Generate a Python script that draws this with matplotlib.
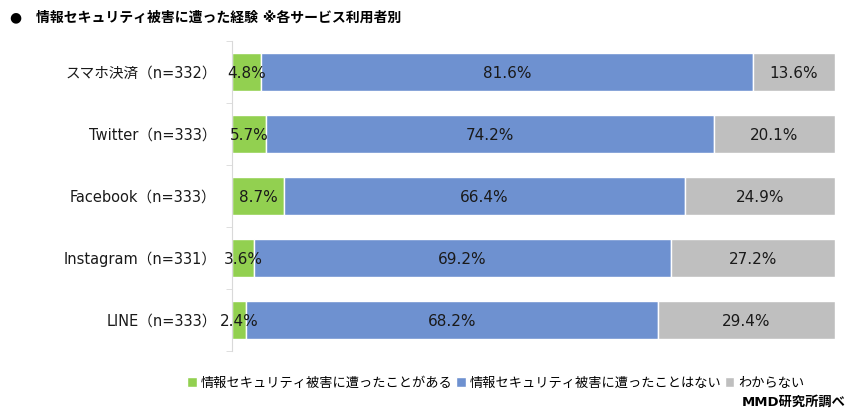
import matplotlib.pyplot as plt
import numpy as np

plt.rcParams['font.family'] = ['DejaVu Sans', 'Noto Sans CJK JP']

# data
cats = ["スマホ決済（n=332）", "Twitter（n=333）", "Facebook（n=333）", "Instagram（n=331）", "LINE（n=333）"]
had = [4.8, 5.7, 8.7, 3.6, 2.4]
never = [81.6, 74.2, 66.4, 69.2, 68.2]
unknown = [13.6, 20.1, 24.9, 27.2, 29.4]
names = ["情報セキュリティ被害に遭ったことがある", "情報セキュリティ被害に遭ったことはない", "わからない"]
colors = ["#92D050", "#6E91D0", "#BFBFBF"]

fig = plt.figure(figsize=(8.56, 4.18), dpi=100)
ax = fig.add_axes([232/856, 1-351/418, (835-232)/856, 310/418])

y = np.arange(len(cats))
left = np.zeros(len(cats))
for vals, col, nm in zip([had, never, unknown], colors, names):
    ax.barh(y, vals, left=left, height=0.61, color=col, edgecolor="white", linewidth=1, label=nm)
    for yi, l, v in zip(y, left, vals):
        ax.text(l + v/2, yi + 0.03, "%.1f%%" % v, ha="center", va="center", fontsize=11, color="#1a1a1a")
    left = left + np.array(vals)

ax.set_xlim(0, 100)
ax.set_ylim(len(cats)-0.5, -0.5)
ax.set_yticks(y)
ax.set_yticklabels(cats, fontsize=10.5, color="#1a1a1a")
ax.tick_params(axis="y", which="major", length=0, pad=11)
ax.set_yticks(np.arange(-0.5, len(cats), 1), minor=True)
ax.tick_params(axis="y", which="minor", length=4, color="#D9D9D9")
ax.set_xticks([])
for s in ["top", "right", "bottom"]:
    ax.spines[s].set_visible(False)
ax.spines["left"].set_color("#D9D9D9")

fig.text(10/856, 1-17/418, "●　情報セキュリティ被害に遭った経験 ※各サービス利用者別", fontsize=10,
         fontweight="bold", va="center", ha="left")

fig.legend(loc="center", bbox_to_anchor=(496/856, 1-383/418), ncol=3, frameon=False, fontsize=9.5,
           handlelength=0.7, handleheight=0.7, handletextpad=0.3, columnspacing=0.3, borderaxespad=0)

fig.text(846/856, 1-402/418, "MMD研究所調べ", fontsize=9.5, fontweight="bold", ha="right", va="center")

fig.savefig("out.png", dpi=100)
